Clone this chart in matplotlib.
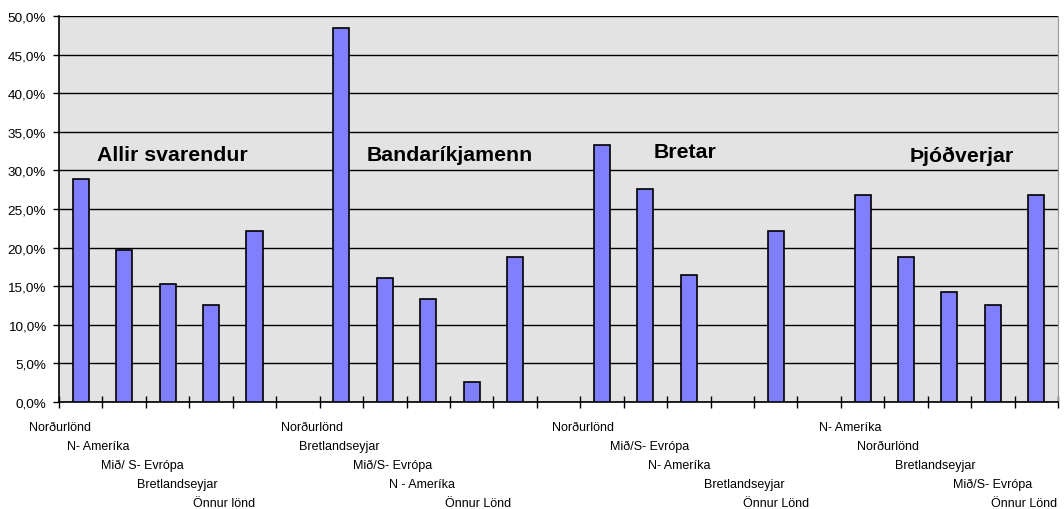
"""Svæði sem svarendur nefna, eftir þjóðerni: súlurit í fjórum hópum
með stölluðum flokkaheitum undir ásnum (Excel-útlit)."""
import numpy as np
import matplotlib
matplotlib.use("Agg")
import matplotlib.pyplot as plt
import matplotlib.transforms as mtransforms
from matplotlib.ticker import FuncFormatter, MultipleLocator

plt.rcParams["font.family"] = ["Liberation Sans", "DejaVu Sans"]

BAR = "#8080FF"
PANEL = "#E3E3E3"

groups = ["Allir svarendur", "Bandaríkjamenn", "Bretar", "Þjóðverjar"]

allir_labels = ["Norðurlönd", "N- Ameríka", "Mið/ S- Evrópa", "Bretlandseyjar", "Önnur lönd"]
allir_values = [28.9, 19.7, 15.3, 12.6, 22.1]

usa_labels = ["Norðurlönd", "Bretlandseyjar", "Mið/S- Evrópa", "N - Ameríka", "Önnur Lönd"]
usa_values = [48.4, 16.1, 13.3, 2.6, 18.8]

uk_labels = ["Norðurlönd", "Mið/S- Evrópa", "N- Ameríka", "Bretlandseyjar", "Önnur Lönd"]
uk_values = [33.3, 27.6, 16.5, None, 22.1]

de_labels = ["N- Ameríka", "Norðurlönd", "Bretlandseyjar", "Mið/S- Evrópa", "Önnur Lönd"]
de_values = [26.8, 18.8, 14.2, 12.6, 26.8]

group_labels = [allir_labels, usa_labels, uk_labels, de_labels]
group_values = [allir_values, usa_values, uk_values, de_values]

# hliðrun flokkaheita (í pt) miðað við miðju flokks, eins og Excel raðaði þeim
label_shift = [
    [-15, -19, -18, -24, -22],
    [-21, -33, -26, -36, -27],
    [-14, 3, -7, 9, 0],
    [-9, -13, -10, 0, -9],
]
# staðsetning hópheita (x frá fyrsta flokki, y í %)
title_pos = [(0.38, 32.1), (0.57, 32.1), (1.19, 32.5), (1.09, 32.0)]

# raða í einn flokkaás með tómum flokki á milli hópa
names, values, rows, shifts, starts = [], [], [], [], []
for g, (labs, vals) in enumerate(zip(group_labels, group_values)):
    if g:
        names.append("")
        values.append(np.nan)
        rows.append(0)
        shifts.append(0)
    starts.append(len(names))
    for r, (lab, v) in enumerate(zip(labs, vals)):
        names.append(lab)
        values.append(np.nan if v is None else v)
        rows.append(r)
        shifts.append(label_shift[g][r])
x = np.arange(len(names))
values = np.array(values, dtype=float)

fig = plt.figure(figsize=(10.64, 5.10), dpi=100)
ax = fig.add_axes([0.0555, 0.2098, 0.9389, 0.7569])
ax.set_facecolor(PANEL)

ax.yaxis.set_major_locator(MultipleLocator(5))
ax.yaxis.grid(True, color="black", linewidth=1.0)
ax.set_axisbelow(True)
ax.bar(x, values, width=0.37, color=BAR, edgecolor="black", linewidth=1.2, zorder=3)

ax.set_xlim(-0.5, len(names) - 0.5)
ax.set_ylim(0, 50)
ax.yaxis.set_major_formatter(FuncFormatter(lambda v, _: f"{v:.1f}%".replace(".", ",")))
ax.tick_params(axis="y", direction="out", length=4.5, width=1, labelsize=9.7, pad=5)

# merki á mörkum flokka, heitin skrifuð sér
ax.set_xticks(np.arange(len(names) + 1) - 0.5)
ax.set_xticklabels([])
ax.tick_params(axis="x", direction="inout", length=8, width=1)

for s in ("left", "bottom"):
    ax.spines[s].set_color("black")
    ax.spines[s].set_linewidth(1.2)
ax.spines["top"].set_visible(False)
ax.spines["right"].set_color("#9A9A9A")
ax.spines["right"].set_linewidth(0.8)

trans = mtransforms.blended_transform_factory(ax.transData, ax.transAxes)
for xi, name, r, sh in zip(x, names, rows, shifts):
    if not name:
        continue
    ax.annotate(name, xy=(xi, 0), xycoords=trans,
                xytext=(sh, -18 - 13.7 * r), textcoords="offset points",
                ha="center", va="center", fontsize=9)

for title, st, (dx, ty) in zip(groups, starts, title_pos):
    ax.text(st + dx, ty, title, ha="left", va="center",
            fontsize=15.3, fontweight="bold", zorder=4)

fig.savefig("out.png", dpi=100, facecolor="white")
